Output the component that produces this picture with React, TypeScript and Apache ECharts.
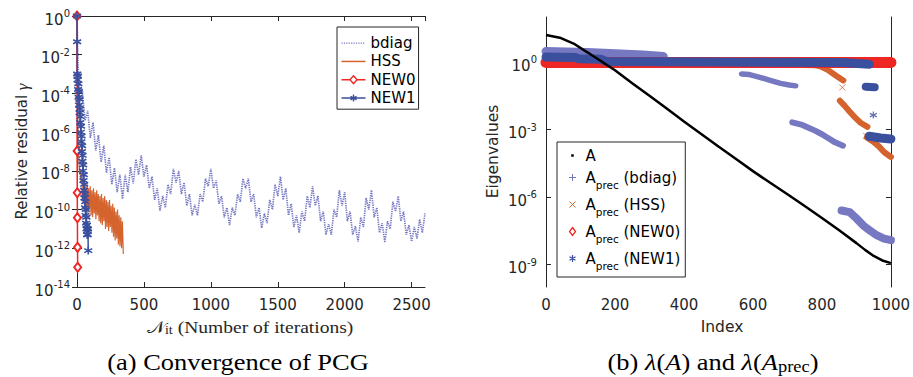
import React, { useEffect, useRef } from 'react';
import * as echarts from 'echarts';

const SANS = 'DejaVu Sans';
const SERIF = 'Liberation Serif';
const AX = '#262626';

const C_BDIAG = '#7678c2';
const C_HSS = '#d4632e';
const C_NEW0 = '#ee2724';
const C_NEW1 = '#3a4f9e';

// ---------- (a) Convergence of PCG : iteration numbers and log10 of relative residual ----------
const new0Iter = [0, 1, 2, 3, 4, 5];
const new0Exp = [0, -6.97, -9.13, -10.42, -11.95, -12.98];

const new1Iter = [0, 1, 2, 4, 6, 8, 10, 12, 14, 16, 18, 20, 22, 24, 26, 28, 30, 32, 34, 36, 38, 40, 42, 44, 46, 48, 50, 52, 54, 56, 58, 60, 62, 64, 66, 68, 70, 72, 74, 76, 78, 80, 82, 84];
const new1Exp = [0, -1.33, -3.0, -3.3, -3.1, -3.8, -3.5, -4.2, -3.9, -4.6, -4.3, -5.0, -4.8, -5.5, -5.2, -6.0, -5.7, -6.5, -6.2, -7.0, -6.7, -7.5, -7.2, -8.0, -7.7, -8.5, -8.2, -9.0, -8.7, -9.4, -9.2, -9.9, -9.6, -10.3, -10.0, -10.7, -10.4, -11.0, -10.8, -11.3, -11.1, -11.3, -11.0, -12.12];

const hssIter = [0, 3, 6, 10, 15, 20, 25, 30, 35, 40, 45, 51, 57, 63, 69, 75, 81, 87, 93, 99, 105, 111, 117, 123, 129, 135, 141, 147, 153, 159, 165, 171, 177, 183, 189, 195, 201, 207, 213, 219, 225, 231, 237, 243, 249, 255, 261, 267, 273, 279, 285, 291, 297, 303, 309, 315, 321, 327, 333, 339, 346];
const hssExp = [0, -3, -5.5, -7.0, -7.6, -8.2, -7.9, -8.6, -8.3, -9.0, -9.6, -8.7, -9.9, -8.8, -10.1, -8.6, -10.2, -8.9, -10.0, -8.8, -10.3, -9.0, -10.4, -8.9, -10.2, -9.1, -10.5, -9.0, -10.3, -9.2, -10.6, -9.3, -10.7, -9.2, -10.8, -9.4, -10.6, -9.3, -11.0, -9.5, -10.9, -9.6, -11.1, -9.5, -10.9, -9.8, -11.2, -9.7, -11.4, -9.9, -11.6, -10.1, -11.5, -10.0, -11.8, -10.3, -11.9, -10.4, -12.0, -10.6, -12.3];

const bdiagIter = [0, 8, 20, 40, 60, 80, 100, 120, 140, 160, 180, 200, 220, 240, 260, 280, 300, 320, 340, 360, 380, 400, 420, 440, 460, 480, 500, 520, 540, 560, 580, 600, 620, 640, 660, 680, 700, 720, 740, 760, 780, 800, 820, 840, 860, 880, 900, 920, 940, 960, 980, 1000, 1020, 1040, 1060, 1080, 1100, 1120, 1140, 1160, 1180, 1200, 1220, 1240, 1260, 1280, 1300, 1320, 1340, 1360, 1380, 1400, 1420, 1440, 1460, 1480, 1500, 1520, 1540, 1560, 1580, 1600, 1620, 1640, 1660, 1680, 1700, 1720, 1740, 1760, 1780, 1800, 1820, 1840, 1860, 1880, 1900, 1920, 1940, 1960, 1980, 2000, 2020, 2040, 2060, 2080, 2100, 2120, 2140, 2160, 2180, 2200, 2220, 2240, 2260, 2280, 2300, 2320, 2340, 2360, 2380, 2400, 2420, 2440, 2460, 2480, 2500, 2520, 2540, 2560, 2580, 2600];
const bdiagExp = [0, -2.6, -3.7, -3.9, -5.4, -4.9, -6.3, -5.5, -6.95, -6.15, -7.55, -6.7, -8.1, -7.3, -8.7, -7.85, -9.1, -8.2, -9.45, -8.2, -9.1, -7.8, -8.65, -7.4, -8.2, -7.2, -8.3, -7.7, -8.9, -8.3, -9.5, -8.9, -10.05, -9.3, -9.9, -8.7, -9.2, -7.9, -8.6, -8.0, -9.2, -8.6, -9.8, -9.2, -10.3, -9.75, -10.3, -9.2, -9.6, -8.4, -8.8, -7.9, -8.9, -8.5, -9.7, -9.3, -10.4, -9.9, -10.8, -9.9, -10.3, -9.2, -9.6, -8.4, -8.9, -8.4, -9.6, -9.2, -10.4, -9.9, -10.95, -10.2, -10.7, -9.5, -10.0, -8.7, -9.3, -8.3, -9.5, -8.9, -10.3, -9.7, -10.9, -10.3, -11.2, -10.1, -10.6, -9.3, -9.9, -8.8, -9.8, -9.3, -10.6, -10.1, -11.3, -10.75, -11.3, -10.0, -10.4, -9.0, -9.8, -9.1, -10.6, -10.1, -11.3, -10.85, -11.65, -10.4, -10.9, -9.4, -10.0, -9.0, -10.4, -9.9, -11.2, -10.7, -11.7, -10.6, -11.0, -9.6, -10.1, -9.3, -10.6, -10.1, -11.3, -10.8, -11.65, -10.9, -11.5, -10.5, -11.2, -10.2];

// ---------- (b) eigenvalues : index and log10 of eigenvalue ----------
const aIdx = [0, 40, 80, 120, 160, 200, 250, 300, 350, 400, 450, 500, 550, 600, 650, 700, 750, 800, 850, 900, 925, 950, 975, 1000];
const aExp = [1.2, 1.08, 0.82, 0.43, 0.03, -0.37, -0.94, -1.5, -2.07, -2.64, -3.2, -3.76, -4.3, -4.85, -5.37, -5.88, -6.4, -6.93, -7.48, -8.05, -8.35, -8.62, -8.82, -8.94];

const bd0Idx = [0, 60, 120, 200, 280, 340];
const bd0Exp = [0.47, 0.45, 0.42, 0.37, 0.31, 0.24];
const bd1Idx = [567, 590, 620, 650, 680, 705, 724];
const bd1Exp = [-0.53, -0.56, -0.68, -0.82, -0.95, -1.02, -1.06];
const bd2Idx = [714, 740, 761, 780, 800, 820, 838, 861];
const bd2Exp = [-2.68, -2.78, -2.92, -3.05, -3.21, -3.4, -3.57, -3.72];
const bd3Idx = [857, 880, 900, 920, 940, 960, 980, 1000];
const bd3Exp = [-6.6, -6.67, -6.95, -7.27, -7.5, -7.71, -7.85, -7.92];

const h0Idx = [0, 500, 781];
const h0Exp = [0, 0, -0.1];
const h1Idx = [781, 800, 818, 840, 862];
const h1Exp = [-0.14, -0.22, -0.36, -0.6, -0.82];
const h2Idx = [852, 866, 880, 895, 912, 932];
const h2Exp = [-1.72, -1.95, -2.2, -2.45, -2.7, -2.88];
const h3Idx = [930, 950, 965, 980, 1000];
const h3Exp = [-3.35, -3.55, -3.75, -4.0, -4.22];
const hxIdx = [859, 928];
const hxExp = [-1.13, -3.28];

const n0Idx = [0, 500, 1000];
const n0Exp = [-0.02, -0.02, -0.02];

const n1aIdx = [0, 85, 95, 160, 175, 500, 860, 937];
const n1aExp = [0.22, 0.2, 0.14, 0.12, 0.02, 0.0, -0.02, -0.1];
const n1bIdx = [927, 953];
const n1bExp = [-1.1, -1.12];
const n1cIdx = [937, 970, 1000];
const n1cExp = [-3.3, -3.38, -3.42];
const n1sIdx = [949];
const n1sExp = [-2.36];

const rightYTicks = [-9, -6, -3, 0];

const STAR = 'path://M5,0L5,10M0.67,2.5L9.33,7.5M0.67,7.5L9.33,2.5';
const CROSS = 'path://M0,0L10,10M0,10L10,0';

const pts = (xs: number[], es: number[]) => xs.map((x, i) => [x, Math.pow(10, es[i])]);

const supRich = {
  b: { fontFamily: SANS, fontSize: 15, color: AX, padding: [7, 0, 0, 0] },
  s: { fontFamily: SANS, fontSize: 10, color: AX, padding: [0, 0, 5, 0] },
};
const axisLine = { show: true, lineStyle: { color: AX, width: 1 } };
const tick = { show: true, inside: true, length: 5, lineStyle: { color: AX, width: 1 } };
const xLabel = { color: AX, fontFamily: SANS, fontSize: 15, margin: 10, formatter: (v: number) => String(v) };
const noSplit = { show: false };

function band(name: string, color: string, xs: number[], es: number[], width: number, z = 2) {
  return {
    type: 'line', name, xAxisIndex: 2, yAxisIndex: 2, data: pts(xs, es), symbol: 'none', clip: false,
    silent: true, lineStyle: { color, width, cap: 'round', join: 'round' }, itemStyle: { color }, z,
  };
}

function buildOption() {
  return {
    animation: false,
    backgroundColor: '#fff',
    grid: [
      { left: 77, top: 16, width: 348, height: 271 },
      { left: 546, top: 17, width: 351, height: 270 },
    ],
    xAxis: [
      { gridIndex: 0, type: 'value', position: 'bottom', min: 0, max: 2600, interval: 500, axisLine, axisTick: tick, axisLabel: { ...xLabel, showMaxLabel: false }, splitLine: noSplit },
      { gridIndex: 0, type: 'value', position: 'top', min: 0, max: 2600, interval: 500, axisLine, axisTick: tick, axisLabel: { show: false }, splitLine: noSplit },
      { gridIndex: 1, type: 'value', position: 'bottom', min: 0, max: 1000, interval: 200, axisLine, axisTick: tick, axisLabel: xLabel, splitLine: noSplit },
      { gridIndex: 1, type: 'value', position: 'top', min: 0, max: 1000, interval: 200, axisLine, axisTick: tick, axisLabel: { show: false }, splitLine: noSplit },
    ],
    yAxis: [
      {
        gridIndex: 0, type: 'log', logBase: 10, min: 1e-14, max: 1, interval: 2, position: 'left', axisLine, axisTick: tick, splitLine: noSplit,
        minorTick: { show: false },
        axisLabel: { margin: 7, formatter: (v: number) => `{b|10}{s|${Math.round(Math.log10(v))}}`, rich: supRich },
      },
      { gridIndex: 0, type: 'log', logBase: 10, min: 1e-14, max: 1, interval: 2, position: 'right', axisLine, axisTick: tick, axisLabel: { show: false }, splitLine: noSplit },
      { gridIndex: 1, type: 'log', logBase: 10, min: 1e-10, max: 100, position: 'left', show: false, splitLine: noSplit },
      {
        gridIndex: 1, type: 'value', min: -10, max: 2, position: 'left', axisLine, splitLine: noSplit,
        axisTick: { ...tick, customValues: rightYTicks },
        axisLabel: { margin: 9, customValues: rightYTicks, formatter: (v: number) => `{b|10}{s|${v}}`, rich: supRich },
      },
      {
        gridIndex: 1, type: 'value', min: -10, max: 2, position: 'right', axisLine, splitLine: noSplit,
        axisTick: { ...tick, customValues: rightYTicks }, axisLabel: { show: false },
      },
    ],
    legend: [
      {
        left: 337, top: 27, orient: 'vertical', selectedMode: false, padding: [7, 3, 2, 2], itemGap: 0,
        itemWidth: 24, itemHeight: 10, backgroundColor: '#fff', borderColor: AX, borderWidth: 1, borderRadius: 0,
        textStyle: { fontFamily: SANS, fontSize: 15, color: '#000', lineHeight: 18.3 },
        data: [
          { name: 'bdiag', icon: 'path://M0,0M24,10M0,5L24,5', itemStyle: { color: 'none', borderColor: C_BDIAG, borderWidth: 1.2, borderType: 'dotted' } },
          { name: 'HSS', icon: 'path://M0,0M24,10M0,5L24,5', itemStyle: { color: 'none', borderColor: C_HSS, borderWidth: 1.5 } },
          { name: 'NEW0', icon: 'path://M0,0M24,10M0,5L8.5,5M15.5,5L24,5M12,1L15.5,5L12,9L8.5,5Z', itemStyle: { color: '#fff', borderColor: C_NEW0, borderWidth: 1.4 } },
          { name: 'NEW1', icon: 'path://M0,0M24,10M0,5L24,5M12,1.5L12,8.5M9,3.2L15,6.8M9,6.8L15,3.2', itemStyle: { color: 'none', borderColor: C_NEW1, borderWidth: 1.4 } },
        ],
      },
      {
        left: 557, top: 142, orient: 'vertical', selectedMode: false, padding: [5, 5, 5, 8], itemGap: 0,
        itemWidth: 16, itemHeight: 10, backgroundColor: '#fff', borderColor: AX, borderWidth: 1, borderRadius: 0,
        textStyle: {
          fontFamily: SANS, fontSize: 15, color: '#000', lineHeight: 17,
          rich: { p: { fontFamily: SANS, fontSize: 10.5, color: '#000', lineHeight: 27, padding: [14, 0, 0, 0] } },
        },
        formatter: (name: string) => (name === 'A' ? 'A' : `A{p|prec} ${name.replace('Aprec ', '')}`),
        data: [
          { name: 'A', icon: 'path://M0,0M10,10M4,4L6,4L6,6L4,6Z', itemStyle: { color: '#000', borderColor: '#000', borderWidth: 0.5 } },
          { name: 'Aprec (bdiag)', icon: 'path://M0,0M10,10M5,1.5L5,8.5M1.5,5L8.5,5', itemStyle: { color: 'none', borderColor: C_BDIAG, borderWidth: 1 } },
          { name: 'Aprec (HSS)', icon: 'path://M0,0M10,10M2,2L8,8M2,8L8,2', itemStyle: { color: 'none', borderColor: C_HSS, borderWidth: 1 } },
          { name: 'Aprec (NEW0)', icon: 'path://M0,0M10,10M5,1L8,5L5,9L2,5Z', itemStyle: { color: 'none', borderColor: C_NEW0, borderWidth: 1.3 } },
          { name: 'Aprec (NEW1)', icon: 'path://M0,0M10,10M5,1.5L5,8.5M2,3.2L8,6.8M2,6.8L8,3.2', itemStyle: { color: 'none', borderColor: C_NEW1, borderWidth: 1.2 } },
        ],
      },
    ],
    series: [
      // ----- left panel -----
      { type: 'line', name: 'bdiag', xAxisIndex: 0, yAxisIndex: 0, data: pts(bdiagIter, bdiagExp), symbol: 'none', silent: true, lineStyle: { color: C_BDIAG, width: 1.7, type: [1.3, 1] }, itemStyle: { color: C_BDIAG }, z: 2 },
      { type: 'line', name: 'HSS', xAxisIndex: 0, yAxisIndex: 0, data: pts(hssIter, hssExp), symbol: 'none', silent: true, lineStyle: { color: C_HSS, width: 1.2 }, itemStyle: { color: C_HSS }, z: 3 },
      { type: 'line', name: 'NEW0', xAxisIndex: 0, yAxisIndex: 0, data: pts(new0Iter, new0Exp), symbol: 'emptyDiamond', symbolSize: [7, 9], silent: true, lineStyle: { color: C_NEW0, width: 1.5 }, itemStyle: { color: C_NEW0, borderColor: C_NEW0, borderWidth: 1.3 }, z: 4 },
      { type: 'line', name: 'NEW1', xAxisIndex: 0, yAxisIndex: 0, data: pts(new1Iter, new1Exp), symbol: STAR, symbolSize: 8, silent: true, lineStyle: { color: C_NEW1, width: 1.5 }, itemStyle: { color: C_NEW1, borderColor: C_NEW1, borderWidth: 1.6 }, z: 5 },
      // ----- right panel -----
      band('Aprec (bdiag)', C_BDIAG, bd0Idx, bd0Exp, 9),
      band('Aprec (bdiag)', C_BDIAG, bd1Idx, bd1Exp, 5.5),
      band('Aprec (bdiag)', C_BDIAG, bd2Idx, bd2Exp, 6),
      band('Aprec (bdiag)', C_BDIAG, bd3Idx, bd3Exp, 8),
      band('Aprec (HSS)', C_HSS, h0Idx, h0Exp, 8, 3),
      band('Aprec (HSS)', C_HSS, h1Idx, h1Exp, 6, 3),
      band('Aprec (HSS)', C_HSS, h2Idx, h2Exp, 6, 3),
      band('Aprec (HSS)', C_HSS, h3Idx, h3Exp, 6, 3),
      { type: 'scatter', name: 'Aprec (HSS)', xAxisIndex: 2, yAxisIndex: 2, data: pts(hxIdx, hxExp), symbol: CROSS, symbolSize: 6, silent: true, clip: false, itemStyle: { color: C_HSS, borderColor: C_HSS, borderWidth: 1 }, z: 3 },
      band('Aprec (NEW0)', C_NEW0, n0Idx, n0Exp, 11, 4),
      band('Aprec (NEW1)', C_NEW1, n1aIdx, n1aExp, 9, 5),
      band('Aprec (NEW1)', C_NEW1, n1bIdx, n1bExp, 8, 5),
      band('Aprec (NEW1)', C_NEW1, n1cIdx, n1cExp, 9, 5),
      { type: 'scatter', name: 'Aprec (NEW1)', xAxisIndex: 2, yAxisIndex: 2, data: pts(n1sIdx, n1sExp), symbol: STAR, symbolSize: 7, silent: true, clip: false, itemStyle: { color: C_NEW1, borderColor: C_NEW1, borderWidth: 1.2 }, z: 5 },
      { type: 'line', name: 'A', xAxisIndex: 2, yAxisIndex: 2, data: pts(aIdx, aExp), symbol: 'none', silent: true, lineStyle: { color: '#000', width: 2.5 }, itemStyle: { color: '#000' }, z: 6 },
    ],
    graphic: [
      {
        type: 'text', x: 22, y: 151.5, rotation: Math.PI / 2,
        style: {
          text: '{t|Relative residual }{g|γ}', align: 'center', verticalAlign: 'middle',
          rich: { t: { fontFamily: SANS, fontSize: 15, fill: AX }, g: { fontFamily: SERIF, fontStyle: 'italic', fontSize: 17, fill: AX } },
        },
      },
      {
        type: 'text', x: 250, y: 327, scaleX: 1.15,
        style: {
          text: '{n|𝒩}{s|it}{t| (Number of iterations)}', align: 'center', verticalAlign: 'middle',
          rich: {
            n: { fontFamily: SERIF, fontSize: 17, fill: AX },
            s: { fontFamily: SERIF, fontSize: 12, fill: AX, padding: [6, 0, 0, 0] },
            t: { fontFamily: SERIF, fontSize: 17, fill: AX },
          },
        },
      },
      {
        type: 'text', x: 238, y: 362, scaleX: 1.15,
        style: { text: '(a) Convergence of PCG', align: 'center', verticalAlign: 'middle', fontFamily: SERIF, fontSize: 23, fill: '#000' },
      },
      {
        type: 'text', x: 493, y: 151.5, rotation: Math.PI / 2,
        style: { text: 'Eigenvalues', align: 'center', verticalAlign: 'middle', fontFamily: SANS, fontSize: 15.5, fill: AX },
      },
      {
        type: 'text', x: 722, y: 327,
        style: { text: 'Index', align: 'center', verticalAlign: 'middle', fontFamily: SANS, fontSize: 15.5, fill: AX },
      },
      {
        type: 'text', x: 713, y: 362, scaleX: 1.15,
        style: {
          text: '{t|(b) }{i|λ}{t|(}{i|A}{t|) and }{i|λ}{t|(}{i|A}{s|prec}{t|)}', align: 'center', verticalAlign: 'middle',
          rich: {
            t: { fontFamily: SERIF, fontSize: 23, fill: '#000' },
            i: { fontFamily: SERIF, fontSize: 23, fontStyle: 'italic', fill: '#000' },
            s: { fontFamily: SERIF, fontSize: 16, fill: '#000', padding: [9, 0, 0, 0] },
          },
        },
      },
    ],
  };
}

export default function App() {
  const ref = useRef<HTMLDivElement>(null);
  useEffect(() => {
    if (!ref.current) return;
    const chart = echarts.init(ref.current, null, { renderer: 'svg' });
    chart.setOption(buildOption() as any);
    return () => chart.dispose();
  }, []);
  return <div ref={ref} style={{ position: 'fixed', left: 0, top: 0, width: 913, height: 377, background: '#fff' }} />;
}
